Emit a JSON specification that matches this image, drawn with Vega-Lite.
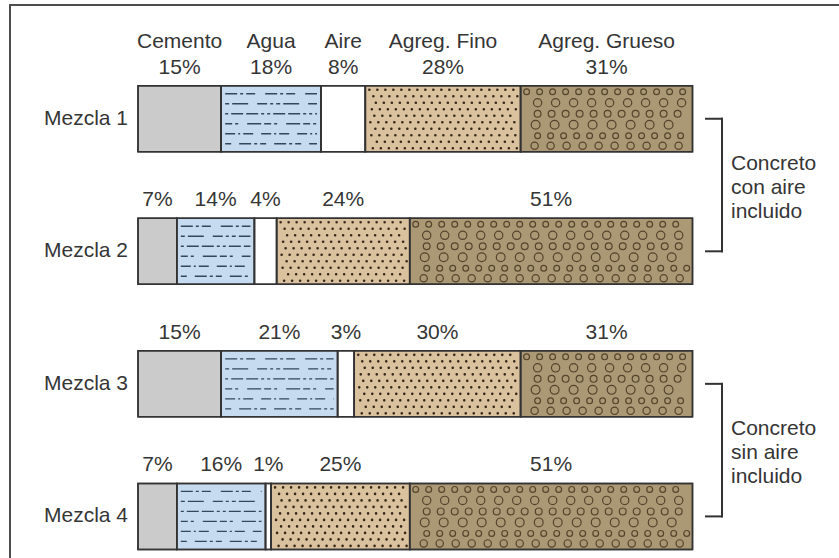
{
  "$schema": "https://vega.github.io/schema/vega-lite/v6.json",
  "width": 839,
  "height": 558,
  "autosize": {"type": "fit", "contains": "padding"},
  "padding": {"left": 10, "top": 5, "right": -2, "bottom": -2},
  "background": "white",
  "config": {
    "view": {"stroke": "#4d4d4d", "strokeWidth": 2},
    "text": {"font": "Liberation Sans", "fontSize": 21, "fill": "#353535"}
  },
  "datasets": {
    "mezclas": [
      {"mezcla": "Mezcla 1", "componente": "Cemento", "orden": 1, "pct": 15, "etiqueta": "15%"},
      {"mezcla": "Mezcla 1", "componente": "Agua", "orden": 2, "pct": 18, "etiqueta": "18%"},
      {"mezcla": "Mezcla 1", "componente": "Aire", "orden": 3, "pct": 8, "etiqueta": "8%"},
      {"mezcla": "Mezcla 1", "componente": "Agreg. Fino", "orden": 4, "pct": 28, "etiqueta": "28%"},
      {"mezcla": "Mezcla 1", "componente": "Agreg. Grueso", "orden": 5, "pct": 31, "etiqueta": "31%"},
      {"mezcla": "Mezcla 2", "componente": "Cemento", "orden": 1, "pct": 7, "etiqueta": "7%"},
      {"mezcla": "Mezcla 2", "componente": "Agua", "orden": 2, "pct": 14, "etiqueta": "14%"},
      {"mezcla": "Mezcla 2", "componente": "Aire", "orden": 3, "pct": 4, "etiqueta": "4%"},
      {"mezcla": "Mezcla 2", "componente": "Agreg. Fino", "orden": 4, "pct": 24, "etiqueta": "24%"},
      {"mezcla": "Mezcla 2", "componente": "Agreg. Grueso", "orden": 5, "pct": 51, "etiqueta": "51%"},
      {"mezcla": "Mezcla 3", "componente": "Cemento", "orden": 1, "pct": 15, "etiqueta": "15%"},
      {"mezcla": "Mezcla 3", "componente": "Agua", "orden": 2, "pct": 21, "etiqueta": "21%"},
      {"mezcla": "Mezcla 3", "componente": "Aire", "orden": 3, "pct": 3, "etiqueta": "3%"},
      {"mezcla": "Mezcla 3", "componente": "Agreg. Fino", "orden": 4, "pct": 30, "etiqueta": "30%"},
      {"mezcla": "Mezcla 3", "componente": "Agreg. Grueso", "orden": 5, "pct": 31, "etiqueta": "31%"},
      {"mezcla": "Mezcla 4", "componente": "Cemento", "orden": 1, "pct": 7, "etiqueta": "7%"},
      {"mezcla": "Mezcla 4", "componente": "Agua", "orden": 2, "pct": 16, "etiqueta": "16%"},
      {"mezcla": "Mezcla 4", "componente": "Aire", "orden": 3, "pct": 1, "etiqueta": "1%"},
      {"mezcla": "Mezcla 4", "componente": "Agreg. Fino", "orden": 4, "pct": 25, "etiqueta": "25%"},
      {"mezcla": "Mezcla 4", "componente": "Agreg. Grueso", "orden": 5, "pct": 51, "etiqueta": "51%"}
    ],
    "corchetes": [
      {"desde": "Mezcla 1", "hasta": "Mezcla 2", "texto": "Concreto\ncon aire\nincluido"},
      {"desde": "Mezcla 3", "hasta": "Mezcla 4", "texto": "Concreto\nsin aire\nincluido"}
    ]
  },
  "layer": [
    {
      "data": {"name": "mezclas"},
      "transform": [
        {"stack": "pct", "groupby": ["mezcla"], "sort": [{"field": "orden", "order": "ascending"}], "as": ["x0", "x1"]}
      ],
      "layer": [
        {
          "mark": {"type": "bar", "stroke": "#333333", "strokeWidth": 1.5},
          "encoding": {
            "x": {"field": "x0", "type": "quantitative", "axis": null, "scale": {"domain": [-23.084, 126.781], "nice": false, "zero": false}},
            "x2": {"field": "x1"},
            "y": {"field": "mezcla", "type": "nominal", "axis": null, "scale": {"type": "band", "domain": ["Mezcla 1", "Mezcla 2", "Mezcla 3", "Mezcla 4"], "paddingInner": 0.5021, "paddingOuter": 0.3446, "align": 0.884}},
            "fill": {"field": "componente", "type": "nominal", "legend": null, "scale": {"domain": ["Cemento", "Agua", "Aire", "Agreg. Fino", "Agreg. Grueso"], "range": ["#cbcbcb", "#c6dbf0", "#ffffff", "#dbc29e", "#ab9874"]}}
          }
        },
        {"transform": [{"filter": "datum.componente === 'Agua'"}], "mark": {"type": "rule", "yOffset": -25, "xOffset": 4, "x2Offset": -4, "stroke": "#34465e", "strokeWidth": 1.4, "strokeDash": [12, 3, 3, 3, 9, 10]}, "encoding": {"x": {"field": "x0", "type": "quantitative"}, "x2": {"field": "x1"}, "y": {"field": "mezcla", "type": "nominal"}}},
        {"transform": [{"filter": "datum.componente === 'Agua'"}], "mark": {"type": "rule", "yOffset": -15, "xOffset": 4, "x2Offset": -4, "stroke": "#34465e", "strokeWidth": 1.4, "strokeDash": [4, 3, 16, 9, 10, 3, 3, 3]}, "encoding": {"x": {"field": "x0", "type": "quantitative"}, "x2": {"field": "x1"}, "y": {"field": "mezcla", "type": "nominal"}}},
        {"transform": [{"filter": "datum.componente === 'Agua'"}], "mark": {"type": "rule", "yOffset": -5, "xOffset": 4, "x2Offset": -4, "stroke": "#34465e", "strokeWidth": 1.4, "strokeDash": [3, 3, 12, 3, 12, 3, 3, 3]}, "encoding": {"x": {"field": "x0", "type": "quantitative"}, "x2": {"field": "x1"}, "y": {"field": "mezcla", "type": "nominal"}}},
        {"transform": [{"filter": "datum.componente === 'Agua'"}], "mark": {"type": "rule", "yOffset": 5, "xOffset": 4, "x2Offset": -4, "stroke": "#34465e", "strokeWidth": 1.4, "strokeDash": [7, 3, 3, 9, 14, 3]}, "encoding": {"x": {"field": "x0", "type": "quantitative"}, "x2": {"field": "x1"}, "y": {"field": "mezcla", "type": "nominal"}}},
        {"transform": [{"filter": "datum.componente === 'Agua'"}], "mark": {"type": "rule", "yOffset": 15, "xOffset": 4, "x2Offset": -4, "stroke": "#34465e", "strokeWidth": 1.4, "strokeDash": [10, 3, 2, 3, 10, 8]}, "encoding": {"x": {"field": "x0", "type": "quantitative"}, "x2": {"field": "x1"}, "y": {"field": "mezcla", "type": "nominal"}}},
        {"transform": [{"filter": "datum.componente === 'Agua'"}], "mark": {"type": "rule", "yOffset": 25, "xOffset": 4, "x2Offset": -4, "stroke": "#34465e", "strokeWidth": 1.4, "strokeDash": [6, 8, 12, 3, 3, 3]}, "encoding": {"x": {"field": "x0", "type": "quantitative"}, "x2": {"field": "x1"}, "y": {"field": "mezcla", "type": "nominal"}}},
        {"transform": [{"filter": "datum.componente === 'Agreg. Fino'"}], "mark": {"type": "rule", "yOffset": -29, "xOffset": 4, "x2Offset": -3, "stroke": "#35271a", "strokeWidth": 2.6, "strokeCap": "round", "strokeDash": [0, 8], "strokeDashOffset": 0}, "encoding": {"x": {"field": "x0", "type": "quantitative"}, "x2": {"field": "x1"}, "y": {"field": "mezcla", "type": "nominal"}}},
        {"transform": [{"filter": "datum.componente === 'Agreg. Fino'"}], "mark": {"type": "rule", "yOffset": -22.5, "xOffset": 4, "x2Offset": -3, "stroke": "#35271a", "strokeWidth": 2.6, "strokeCap": "round", "strokeDash": [0, 8], "strokeDashOffset": 4}, "encoding": {"x": {"field": "x0", "type": "quantitative"}, "x2": {"field": "x1"}, "y": {"field": "mezcla", "type": "nominal"}}},
        {"transform": [{"filter": "datum.componente === 'Agreg. Fino'"}], "mark": {"type": "rule", "yOffset": -16, "xOffset": 4, "x2Offset": -3, "stroke": "#35271a", "strokeWidth": 2.6, "strokeCap": "round", "strokeDash": [0, 8], "strokeDashOffset": 1.5}, "encoding": {"x": {"field": "x0", "type": "quantitative"}, "x2": {"field": "x1"}, "y": {"field": "mezcla", "type": "nominal"}}},
        {"transform": [{"filter": "datum.componente === 'Agreg. Fino'"}], "mark": {"type": "rule", "yOffset": -9.5, "xOffset": 4, "x2Offset": -3, "stroke": "#35271a", "strokeWidth": 2.6, "strokeCap": "round", "strokeDash": [0, 8], "strokeDashOffset": 5.5}, "encoding": {"x": {"field": "x0", "type": "quantitative"}, "x2": {"field": "x1"}, "y": {"field": "mezcla", "type": "nominal"}}},
        {"transform": [{"filter": "datum.componente === 'Agreg. Fino'"}], "mark": {"type": "rule", "yOffset": -3, "xOffset": 4, "x2Offset": -3, "stroke": "#35271a", "strokeWidth": 2.6, "strokeCap": "round", "strokeDash": [0, 8], "strokeDashOffset": 3}, "encoding": {"x": {"field": "x0", "type": "quantitative"}, "x2": {"field": "x1"}, "y": {"field": "mezcla", "type": "nominal"}}},
        {"transform": [{"filter": "datum.componente === 'Agreg. Fino'"}], "mark": {"type": "rule", "yOffset": 3.5, "xOffset": 4, "x2Offset": -3, "stroke": "#35271a", "strokeWidth": 2.6, "strokeCap": "round", "strokeDash": [0, 8], "strokeDashOffset": 7}, "encoding": {"x": {"field": "x0", "type": "quantitative"}, "x2": {"field": "x1"}, "y": {"field": "mezcla", "type": "nominal"}}},
        {"transform": [{"filter": "datum.componente === 'Agreg. Fino'"}], "mark": {"type": "rule", "yOffset": 10, "xOffset": 4, "x2Offset": -3, "stroke": "#35271a", "strokeWidth": 2.6, "strokeCap": "round", "strokeDash": [0, 8], "strokeDashOffset": 2}, "encoding": {"x": {"field": "x0", "type": "quantitative"}, "x2": {"field": "x1"}, "y": {"field": "mezcla", "type": "nominal"}}},
        {"transform": [{"filter": "datum.componente === 'Agreg. Fino'"}], "mark": {"type": "rule", "yOffset": 16.5, "xOffset": 4, "x2Offset": -3, "stroke": "#35271a", "strokeWidth": 2.6, "strokeCap": "round", "strokeDash": [0, 8], "strokeDashOffset": 6}, "encoding": {"x": {"field": "x0", "type": "quantitative"}, "x2": {"field": "x1"}, "y": {"field": "mezcla", "type": "nominal"}}},
        {"transform": [{"filter": "datum.componente === 'Agreg. Fino'"}], "mark": {"type": "rule", "yOffset": 23, "xOffset": 4, "x2Offset": -3, "stroke": "#35271a", "strokeWidth": 2.6, "strokeCap": "round", "strokeDash": [0, 8], "strokeDashOffset": 0.5}, "encoding": {"x": {"field": "x0", "type": "quantitative"}, "x2": {"field": "x1"}, "y": {"field": "mezcla", "type": "nominal"}}},
        {"transform": [{"filter": "datum.componente === 'Agreg. Fino'"}], "mark": {"type": "rule", "yOffset": 29.5, "xOffset": 4, "x2Offset": -3, "stroke": "#35271a", "strokeWidth": 2.6, "strokeCap": "round", "strokeDash": [0, 8], "strokeDashOffset": 4.5}, "encoding": {"x": {"field": "x0", "type": "quantitative"}, "x2": {"field": "x1"}, "y": {"field": "mezcla", "type": "nominal"}}},
        {"transform": [{"filter": "datum.componente === 'Agreg. Grueso'"}], "mark": {"type": "rule", "yOffset": -27, "xOffset": 6, "x2Offset": -5, "stroke": "#55442d", "strokeWidth": 7, "strokeCap": "round", "strokeDash": [0, 13], "strokeDashOffset": 0}, "encoding": {"x": {"field": "x0", "type": "quantitative"}, "x2": {"field": "x1"}, "y": {"field": "mezcla", "type": "nominal"}}},
        {"transform": [{"filter": "datum.componente === 'Agreg. Grueso'"}], "mark": {"type": "rule", "yOffset": -27, "xOffset": 6, "x2Offset": -5, "stroke": "#ab9874", "strokeWidth": 4.6, "strokeCap": "round", "strokeDash": [0, 13], "strokeDashOffset": 0}, "encoding": {"x": {"field": "x0", "type": "quantitative"}, "x2": {"field": "x1"}, "y": {"field": "mezcla", "type": "nominal"}}},
        {"transform": [{"filter": "datum.componente === 'Agreg. Grueso'"}], "mark": {"type": "rule", "yOffset": -16, "xOffset": 6, "x2Offset": -5, "stroke": "#55442d", "strokeWidth": 9.5, "strokeCap": "round", "strokeDash": [0, 18], "strokeDashOffset": 7}, "encoding": {"x": {"field": "x0", "type": "quantitative"}, "x2": {"field": "x1"}, "y": {"field": "mezcla", "type": "nominal"}}},
        {"transform": [{"filter": "datum.componente === 'Agreg. Grueso'"}], "mark": {"type": "rule", "yOffset": -16, "xOffset": 6, "x2Offset": -5, "stroke": "#ab9874", "strokeWidth": 7.1, "strokeCap": "round", "strokeDash": [0, 18], "strokeDashOffset": 7}, "encoding": {"x": {"field": "x0", "type": "quantitative"}, "x2": {"field": "x1"}, "y": {"field": "mezcla", "type": "nominal"}}},
        {"transform": [{"filter": "datum.componente === 'Agreg. Grueso'"}], "mark": {"type": "rule", "yOffset": -5, "xOffset": 6, "x2Offset": -5, "stroke": "#55442d", "strokeWidth": 8, "strokeCap": "round", "strokeDash": [0, 14], "strokeDashOffset": 3}, "encoding": {"x": {"field": "x0", "type": "quantitative"}, "x2": {"field": "x1"}, "y": {"field": "mezcla", "type": "nominal"}}},
        {"transform": [{"filter": "datum.componente === 'Agreg. Grueso'"}], "mark": {"type": "rule", "yOffset": -5, "xOffset": 6, "x2Offset": -5, "stroke": "#ab9874", "strokeWidth": 5.6, "strokeCap": "round", "strokeDash": [0, 14], "strokeDashOffset": 3}, "encoding": {"x": {"field": "x0", "type": "quantitative"}, "x2": {"field": "x1"}, "y": {"field": "mezcla", "type": "nominal"}}},
        {"transform": [{"filter": "datum.componente === 'Agreg. Grueso'"}], "mark": {"type": "rule", "yOffset": 6, "xOffset": 6, "x2Offset": -5, "stroke": "#55442d", "strokeWidth": 10, "strokeCap": "round", "strokeDash": [0, 19], "strokeDashOffset": 10}, "encoding": {"x": {"field": "x0", "type": "quantitative"}, "x2": {"field": "x1"}, "y": {"field": "mezcla", "type": "nominal"}}},
        {"transform": [{"filter": "datum.componente === 'Agreg. Grueso'"}], "mark": {"type": "rule", "yOffset": 6, "xOffset": 6, "x2Offset": -5, "stroke": "#ab9874", "strokeWidth": 7.6, "strokeCap": "round", "strokeDash": [0, 19], "strokeDashOffset": 10}, "encoding": {"x": {"field": "x0", "type": "quantitative"}, "x2": {"field": "x1"}, "y": {"field": "mezcla", "type": "nominal"}}},
        {"transform": [{"filter": "datum.componente === 'Agreg. Grueso'"}], "mark": {"type": "rule", "yOffset": 17, "xOffset": 6, "x2Offset": -5, "stroke": "#55442d", "strokeWidth": 7, "strokeCap": "round", "strokeDash": [0, 13], "strokeDashOffset": 2}, "encoding": {"x": {"field": "x0", "type": "quantitative"}, "x2": {"field": "x1"}, "y": {"field": "mezcla", "type": "nominal"}}},
        {"transform": [{"filter": "datum.componente === 'Agreg. Grueso'"}], "mark": {"type": "rule", "yOffset": 17, "xOffset": 6, "x2Offset": -5, "stroke": "#ab9874", "strokeWidth": 4.6, "strokeCap": "round", "strokeDash": [0, 13], "strokeDashOffset": 2}, "encoding": {"x": {"field": "x0", "type": "quantitative"}, "x2": {"field": "x1"}, "y": {"field": "mezcla", "type": "nominal"}}},
        {"transform": [{"filter": "datum.componente === 'Agreg. Grueso'"}], "mark": {"type": "rule", "yOffset": 27, "xOffset": 6, "x2Offset": -5, "stroke": "#55442d", "strokeWidth": 8.5, "strokeCap": "round", "strokeDash": [0, 16], "strokeDashOffset": 8}, "encoding": {"x": {"field": "x0", "type": "quantitative"}, "x2": {"field": "x1"}, "y": {"field": "mezcla", "type": "nominal"}}},
        {"transform": [{"filter": "datum.componente === 'Agreg. Grueso'"}], "mark": {"type": "rule", "yOffset": 27, "xOffset": 6, "x2Offset": -5, "stroke": "#ab9874", "strokeWidth": 6.1, "strokeCap": "round", "strokeDash": [0, 16], "strokeDashOffset": 8}, "encoding": {"x": {"field": "x0", "type": "quantitative"}, "x2": {"field": "x1"}, "y": {"field": "mezcla", "type": "nominal"}}},
        {
          "mark": {"type": "bar", "fillOpacity": 0, "stroke": "#333333", "strokeWidth": 1.5},
          "encoding": {"x": {"field": "x0", "type": "quantitative"}, "x2": {"field": "x1"}, "y": {"field": "mezcla", "type": "nominal"}}
        },
        {
          "mark": {"type": "text", "baseline": "middle", "align": "center", "dy": -51},
          "encoding": {
            "x": {"field": "pct", "type": "quantitative", "stack": "zero", "bandPosition": 0.5},
            "y": {"field": "mezcla", "type": "nominal"},
            "detail": {"field": "componente"},
            "order": {"field": "orden", "type": "quantitative"},
            "text": {"field": "etiqueta"}
          }
        },
        {
          "transform": [{"filter": "datum.mezcla === 'Mezcla 1'"}],
          "mark": {"type": "text", "baseline": "middle", "align": "center", "dy": -77},
          "encoding": {
            "x": {"field": "pct", "type": "quantitative", "stack": "zero", "bandPosition": 0.5},
            "y": {"field": "mezcla", "type": "nominal"},
            "detail": {"field": "componente"},
            "order": {"field": "orden", "type": "quantitative"},
            "text": {"field": "componente"}
          }
        },
        {
          "transform": [{"filter": "datum.orden === 1"}],
          "mark": {"type": "text", "baseline": "middle", "align": "right", "dx": -10},
          "encoding": {
            "x": {"datum": 0, "type": "quantitative"},
            "y": {"field": "mezcla", "type": "nominal"},
            "text": {"field": "mezcla"}
          }
        }
      ]
    },
    {
      "data": {"name": "corchetes"},
      "layer": [
        {
          "mark": {"type": "rule", "stroke": "#333333", "strokeWidth": 2, "strokeCap": "square"},
          "encoding": {"x": {"datum": 105.32, "type": "quantitative"}, "y": {"field": "desde", "type": "nominal"}, "y2": {"field": "hasta"}}
        },
        {
          "mark": {"type": "rule", "stroke": "#333333", "strokeWidth": 2, "strokeCap": "square"},
          "encoding": {"x": {"datum": 102.43, "type": "quantitative"}, "x2": {"datum": 105.32}, "y": {"field": "desde", "type": "nominal"}}
        },
        {
          "mark": {"type": "rule", "stroke": "#333333", "strokeWidth": 2, "strokeCap": "square"},
          "encoding": {"x": {"datum": 102.43, "type": "quantitative"}, "x2": {"datum": 105.32}, "y": {"field": "hasta", "type": "nominal"}}
        },
        {
          "mark": {"type": "text", "align": "left", "baseline": "middle", "dx": 9, "dy": 45.5, "lineBreak": "\n", "lineHeight": 24},
          "encoding": {"x": {"datum": 105.32, "type": "quantitative"}, "y": {"field": "desde", "type": "nominal"}, "text": {"field": "texto"}}
        }
      ]
    }
  ]
}
